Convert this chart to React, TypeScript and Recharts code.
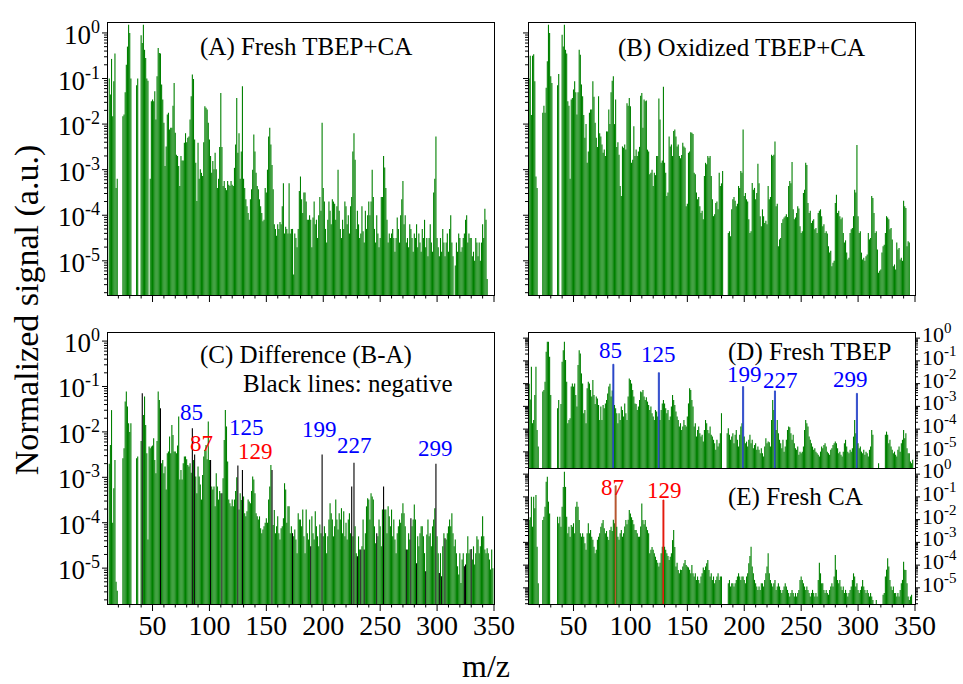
import React from 'react'
import { BarChart, Bar, XAxis, YAxis, Cell } from 'recharts'

const _ = null
const SERIF = 'Liberation Serif, DejaVu Serif, Times New Roman, serif'
const GREEN = '#008000'

// one value per integer m/z, starting here
const MZ_FROM = 10
const X_TICKS = [20, 30, 40, 50, 60, 70, 80, 90, 100, 110, 120, 130, 140, 150, 160, 170, 180, 190, 200,
  210, 220, 230, 240, 250, 260, 270, 280, 290, 300, 310, 320, 330, 340, 350]
const DECADES = [0, -1, -2, -3, -4, -5, -6]

// log10 of the normalized signal, m/z 10..350 (null = no peak)
const freshMix = [
  /*10*/ _, _, -1.0, -1.35, -0.57, -1.83, -1.06, -0.45, -3.4, -3.2,
  /*20*/ _, _, _, _, -1.83, -1.79, -1.3, -0.7, -0.3, 0.18,
  /*30*/ 0.0, -1.0, _, _, _, _, -1.15, -1.0, _, _,
  /*40*/ -0.05, -0.22, 0.18, -0.37, -0.55, -1.0, -1.05, _, -3.2, -1.5,
  /*50*/ -1.46, -1.5, -1.28, -1.9, -0.95, -0.33, -0.44, -0.45, -1.13, -1.46,
  /*60*/ -1.97, -2.92, -2.49, -1.79, -1.75, -2.12, -2.08, -2.08, -1.6, -1.1,
  /*70*/ -2.19, -2.67, -2.7, -2.92, -3.36, -2.7, -2.8, -2.8, -2.41, -2.2,
  /*80*/ -2.4, -2.3, -2.27, -1.9, -1.39, -0.91, -1.01, -2.34, -2.85, -3.69,
  /*90*/ -2.41, -3.2, -2.99, -3.07, -3.14, -2.4, -1.61, -1.64, -1.68, -1.97,
  /*100*/ -2.34, -2.7, -3.07, -2.81, -2.99, -2.63, -2.99, -3.4, -3.2, -2.5,
  /*110*/ -1.32, -2.5, -3.36, -3.25, -3.4, -3.45, -3.25, -3.33, -3.36, -3.25,
  /*120*/ -3.33, -3.36, -2.96, -2.45, -1.43, -2.63, -2.2, -3.2, -2.6, -1.17,
  /*130*/ -3.2, -3.4, -3.65, -3.8, -3.95, -4.1, -3.65, -3.43, -3.0, -2.23,
  /*140*/ -2.6, -3.07, -3.36, -3.43, -3.65, -3.8, -3.95, -4.13, -4.1, -3.4,
  /*150*/ -3.5, -3.0, -2.27, -2.08, -2.45, -2.9, -3.43, -4.2, -4.3, -4.45,
  /*160*/ -4.2, -4.3, -4.15, -4.2, -3.8, -3.3, -4.4, -4.25, -4.3, -4.4,
  /*170*/ -3.3, -4.4, -4.3, -4.3, -5.3, -4.4, -4.5, -4.7, -4.3, -3.47,
  /*180*/ -3.15, -3.65, -3.95, -3.5, -3.5, -3.7, -4.1, -4.1, -4.0, -4.1,
  /*190*/ -4.7, -4.05, -3.7, -4.2, -4.1, -4.5, -4.0, -3.6, -3.9, -1.97,
  /*200*/ -3.4, -3.7, -4.3, -4.6, -4.1, -3.7, -3.9, -4.2, -3.65, -3.7,
  /*210*/ -3.75, -4.1, -3.8, -3.0, -3.9, -4.3, -4.5, -4.1, -4.3, -3.7,
  /*220*/ -3.8, -4.2, -4.0, -4.4, -3.8, -3.6, -2.6, -2.2, -2.78, -4.3,
  /*230*/ -3.9, -4.2, -4.5, -4.4, -3.8, -4.35, -4.6, -3.9, -4.3, -4.0,
  /*240*/ -3.7, -4.0, -3.7, -3.0, -3.6, -4.3, -4.6, -4.0, -4.4, -4.7,
  /*250*/ -4.5, -3.6, -3.6, -2.7, -2.95, -3.4, -4.1, -4.6, -4.4, -4.5,
  /*260*/ -4.4, -4.3, -4.5, -4.8, -4.5, -4.05, -4.3, -4.6, -4.0, -3.65,
  /*270*/ -3.25, -4.2, -4.0, -4.6, -4.5, -4.7, -4.2, -4.3, -4.5, -4.8,
  /*280*/ -4.4, -4.5, -4.2, -4.7, -4.4, -4.6, -4.8, -4.3, -4.5, -4.1,
  /*290*/ -4.7, -4.5, -4.9, -4.5, -4.2, -4.6, -4.8, -3.5, -3.2, -2.27,
  /*300*/ -4.5, -4.7, -4.9, -4.5, -4.8, -4.3, -4.6, -4.9, -4.6, -4.4,
  /*310*/ -4.8, -4.3, -4.0, -4.6, -4.9, _, -5.1, -4.6, -4.8, -4.4,
  /*320*/ -4.5, -4.8, -4.7, -4.5, -4.4, -4.1, -4.0, -4.6, -4.4, -4.5,
  /*330*/ -4.5, -4.9, -4.8, -5.0, -4.5, -4.6, -4.9, -4.6, -5.0, -4.6,
  /*340*/ -4.2, -4.5, -3.86, -4.1, -5.4, _, _, _, _, _,
  /*350*/ _,
]

const oxidizedMix = [
  /*10*/ _, -1.0, -0.5, -1.8, -0.5, -0.47, -1.06, -3.15, -3.4, _,
  /*20*/ _, _, _, -1.75, -1.6, -1.75, -1.2, -0.62, 0.18, 0.0,
  /*30*/ -0.95, -1.1, _, _, _, _, -1.15, -0.9, _, _,
  /*40*/ -0.04, -0.3, 0.18, -0.37, -0.45, -1.5, -1.6, -3.2, -1.46, -1.43,
  /*50*/ -1.24, -1.06, -1.3, -1.79, -1.3, -0.37, -0.48, -1.13, -1.39, -1.8,
  /*60*/ -2.3, -2.0, -2.85, -2.6, -1.75, -1.68, -1.68, -1.06, -1.4, -1.97,
  /*70*/ -2.3, -2.5, -1.39, -2.2, -2.27, -2.45, -2.63, -2.56, -2.7, -2.16,
  /*80*/ -2.16, -1.68, -2.0, -1.3, -1.05, -0.95, -2.0, -1.46, -2.5, -2.4,
  /*90*/ -2.67, -3.36, -3.58, -2.49, -2.52, -2.45, -2.56, -1.54, -1.6, -1.43,
  /*100*/ -1.61, -2.85, -2.78, -2.05, -2.7, -2.56, -2.7, -2.6, -2.5, -1.38,
  /*110*/ -1.32, -2.08, -1.46, -1.5, -1.48, -2.56, -2.6, -3.1, -3.07, -3.0,
  /*120*/ -3.36, -3.07, -3.12, -2.7, -2.7, -1.44, -1.9, -2.85, -2.8, -1.18,
  /*130*/ -2.85, -3.07, -3.58, -3.5, -2.27, -2.49, -2.45, -2.7, -2.15, -2.12,
  /*140*/ -2.27, -2.49, -2.45, -2.7, -2.75, -2.68, -2.41, -2.49, -2.52, -3.8,
  /*150*/ -3.75, -2.63, -2.6, -2.18, -2.19, -2.22, -3.07, -3.1, -3.5, -3.65,
  /*160*/ -3.6, -3.8, -3.95, -3.9, -4.09, -3.14, -2.85, -2.88, -2.7, -2.74,
  /*170*/ -2.7, -3.14, -3.65, -4.02, -3.98, -3.73, -3.7, -3.87, -3.07, -3.36,
  /*180*/ -3.3, -3.03, _, _, _, _, -4.39, -4.35, -4.46, -3.87,
  /*190*/ -3.65, -3.6, -3.68, -3.8, -3.75, -3.36, -3.4, -3.03, -3.07, -2.12,
  /*200*/ -3.58, -3.51, -3.65, -3.7, -4.09, -4.39, -4.35, -3.29, -3.44, -3.4,
  /*210*/ -3.65, -3.51, -2.87, -3.3, -4.02, -4.24, -3.87, -4.02, -4.17, -4.12,
  /*220*/ -4.2, -3.36, -3.65, -3.6, -2.67, -2.7, -2.67, -2.38, -3.8, -3.75,
  /*230*/ -4.68, -4.53, -4.5, -4.17, -4.09, -4.05, -4.02, -3.98, -4.04, -3.36,
  /*240*/ -3.25, -3.3, -2.83, -3.87, -4.09, -4.05, -3.95, -3.8, -3.85, -4.24,
  /*250*/ -4.39, -4.35, -3.51, -3.44, -2.85, -2.9, -3.73, -3.95, -3.9, -4.17,
  /*260*/ -4.12, -4.09, -4.31, -4.28, -4.39, -3.95, -3.9, -3.87, -4.02, -4.24,
  /*270*/ -4.2, -4.39, -4.35, -4.4, -4.68, -4.82, -4.78, -5.12, -5.04, -5.0,
  /*280*/ -3.73, -3.55, -3.95, -3.9, -4.02, -4.09, -4.05, -4.39, -4.6, -4.55,
  /*290*/ -4.82, -4.97, -4.93, -4.39, -4.31, -4.28, -4.02, -3.44, -3.5, -2.46,
  /*300*/ -4.02, -4.39, -4.35, -4.82, -4.97, -4.93, -5.0, -4.9, -4.86, -4.39,
  /*310*/ -4.53, -4.5, -3.58, -3.62, -3.95, -4.39, -4.35, -4.75, -5.26, -5.22,
  /*320*/ -5.19, -4.82, -4.68, -4.65, -4.39, -4.02, -4.05, -4.09, -4.31, -4.28,
  /*330*/ -4.53, -5.12, -5.08, -5.19, -4.6, -4.75, -4.72, -4.97, -4.93, -5.0,
  /*340*/ -3.68, -3.8, -3.84, -4.68, -4.57, -4.6, _, _, _, _,
  /*350*/ _,
]

// |B - A|, log10
const difference = [
  /*10*/ _, _, -2.7, -2.29, -1.52, -4.0, -3.24, -2.62, -5.3, -5.5,
  /*20*/ _, _, _, _, -2.58, -2.36, -1.33, -1.11, -1.44, -1.81,
  /*30*/ -2.0, -1.81, _, _, _, _, -2.58, -2.54, _, _,
  /*40*/ -2.2, -1.15, -1.63, -1.22, -1.85, -2.47, -4.37, -2.32, -2.36, -2.32,
  /*50*/ -2.3, -2.14, -2.62, -2.91, -2.2, -1.11, -1.3, -1.48, -2.69, -2.62,
  /*60*/ -2.91, -2.76, -3.27, -2.47, -2.43, -2.1, -2.47, -1.85, -2.07, -2.43,
  /*70*/ -2.43, -2.47, -2.3, -1.66, -3.05, -2.84, -3.05, -2.69, -2.54, -2.54,
  /*80*/ -2.6, -2.73, -2.76, -2.69, -2.9, -1.92, -2.62, -2.5, -2.98, -3.35,
  /*90*/ -2.76, -2.98, -3.16, -3.49, -2.95, -2.54, -2.4, -2.29, -2.6, -1.77,
  /*100*/ -2.62, -2.62, -3.2, -3.27, -3.2, -3.64, -2.91, -3.2, -3.49, -3.3,
  /*110*/ -3.35, -3.35, -3.02, -2.18, -1.52, -1.88, -2.65, -3.49, -3.57, -3.64,
  /*120*/ -3.49, -3.64, -3.49, -3.3, -3.0, -2.74, -3.71, -3.35, -3.5, -2.84,
  /*130*/ -3.42, -3.79, -3.86, -3.75, -3.49, -3.53, -3.57, -3.3, -2.98, -3.05,
  /*140*/ -3.35, -3.79, -3.86, -3.93, -3.86, -4.12, -4.23, -4.15, -4.08, -4.0,
  /*150*/ -3.9, -4.0, -3.49, -3.2, -2.73, -2.84, -4.05, -3.72, -4.23, -4.08,
  /*160*/ -3.86, -4.23, -4.37, -4.12, -4.08, -3.9, -3.13, -3.27, -4.0, -3.64,
  /*170*/ -3.64, -4.23, -4.08, -4.23, -4.3, -4.15, -4.37, -4.67, -3.79, -3.93,
  /*180*/ -3.93, -4.08, -3.71, -4.3, -4.67, -3.71, -4.23, -4.37, -3.93, -4.52,
  /*190*/ -3.86, -4.23, -4.37, -3.75, -4.08, -4.3, -4.52, -4.04, -4.23, -2.5,
  /*200*/ -4.3, -4.08, -4.23, -4.67, -4.3, -3.93, -3.57, -3.79, -3.93, -4.3,
  /*210*/ -4.08, -3.49, -3.93, -4.15, -3.79, -3.93, -3.68, -4.23, -3.75, -4.3,
  /*220*/ -4.0, -4.37, -3.93, -3.79, -4.23, -3.2, -4.3, -2.68, -4.08, -4.67,
  /*230*/ -4.74, -4.3, -4.59, -4.59, -4.52, -3.93, -4.59, -4.23, -3.64, -3.46,
  /*240*/ -3.49, -3.93, -3.35, -3.42, -3.49, -4.08, -4.45, -4.23, -4.3, -3.93,
  /*250*/ -4.08, -4.52, -3.71, -3.2, -3.71, -3.71, -4.23, -3.64, -3.86, -4.08,
  /*260*/ -3.71, -4.3, -3.93, -4.37, -4.67, -4.23, -4.08, -3.93, -4.0, -3.79,
  /*270*/ -3.57, -3.79, -4.08, -4.59, -4.59, -4.23, -4.37, -3.9, -4.08, -3.93,
  /*280*/ -3.6, -3.93, -4.89, -4.3, -4.52, -4.23, -4.08, -4.08, -4.3, -4.67,
  /*290*/ -5.07, -4.26, -3.93, -4.3, -4.23, -4.52, -4.08, -3.93, -3.68, -2.7,
  /*300*/ -4.3, -4.67, -5.11, -4.67, -5.18, -4.52, -4.23, -4.34, -4.37, -4.23,
  /*310*/ -4.08, -3.93, -4.08, -3.79, -4.23, -4.52, -4.37, -4.67, -4.96, -5.14,
  /*320*/ -4.67, -5.33, -4.81, -4.67, -4.96, -4.92, -4.67, -4.3, -4.67, -4.59,
  /*330*/ -4.58, -4.81, -4.52, -4.92, -4.67, -4.3, -4.37, -4.67, -4.52, -4.3,
  /*340*/ -3.86, -4.3, -4.59, -4.67, -4.56, -4.67, -4.81, -5.03, -4.59, -5.0,
  /*350*/ _,
]
// m/z where B - A is negative (drawn black)
const diffNegative = [41, 57, 85, 87, 101, 111, 125, 129, 155, 173, 189, 199, 225, 227, 230, 233, 236,
  247, 253, 273, 277, 282, 290, 299, 302, 304, 307, 324, 325, 330]

const freshTbep = [
  /*10*/ _, -2.0, -2.7, -1.26, -3.74, -3.6, -2.5, -1.26, -4.04, -4.77,
  /*20*/ _, _, _, -2.35, -2.28, -1.92, -0.6, -0.16, -0.16, -0.82,
  /*30*/ -2.5, _, _, _, _, _, -3.08, -2.72, _, -2.9,
  /*40*/ -1.04, -0.53, -0.16, -0.96, -1.92, -3.74, -3.6, -3.52, -2.13, -1.99,
  /*50*/ -2.13, -1.99, -2.5, -3.01, -1.18, -0.53, -0.67, -1.55, -1.99, -3.3,
  /*60*/ -3.16, -3.74, -2.2, -1.92, -1.99, -2.28, -2.57, -1.84, -2.5, -2.9,
  /*70*/ -2.57, -2.65, -2.94, -3.6, -3.01, -3.6, -2.94, -3.08, -2.87, -2.72,
  /*80*/ -2.43, -2.13, -2.0, -2.57, -2.3, -1.15, -2.94, -3.08, -3.3, -3.74,
  /*90*/ -3.3, -3.6, -3.01, -3.16, -3.45, -2.87, -3.3, -3.6, -2.57, -1.77,
  /*100*/ -1.84, -1.99, -2.28, -2.57, -2.87, -2.9, -3.16, -3.01, -2.72, -2.35,
  /*110*/ -2.38, -2.28, -2.57, -2.72, -2.6, -2.79, -2.94, -3.16, -3.01, -3.3,
  /*120*/ -3.45, -3.6, -3.16, -3.23, -3.45, -1.52, -3.6, -3.16, -2.87, -2.72,
  /*130*/ -2.87, -3.08, -3.3, -3.16, -3.6, -3.45, -3.01, -2.5, -2.72, -2.94,
  /*140*/ -3.23, -3.45, -3.6, -3.89, -3.74, -4.04, -3.89, -3.6, -3.82, -3.89,
  /*150*/ -3.45, -2.87, -2.2, -2.28, -2.72, -3.01, -3.89, -3.74, -4.33, -4.04,
  /*160*/ -3.89, -4.18, -4.33, -4.25, -4.55, -4.04, -3.6, -3.74, -4.04, -4.18,
  /*170*/ -3.89, -4.25, -4.33, -4.47, -4.62, -4.91, -4.47, -4.77, -4.62, -4.18,
  /*180*/ -3.3, _, _, _, _, -4.18, -3.96, -4.25, -4.47, -4.33,
  /*190*/ -4.18, -4.62, -4.25, -4.04, -4.47, -4.77, -4.25, -3.89, -3.74, -2.13,
  /*200*/ -4.33, -4.62, -4.55, -4.77, -4.47, -4.25, -4.62, -4.47, -4.84, -4.7,
  /*210*/ -4.62, -4.91, -4.77, -4.91, -5.06, -4.84, -5.06, -5.2, -4.77, -4.4,
  /*220*/ -4.62, -4.55, -4.58, -4.77, -3.6, -2.72, -3.16, -2.32, -4.04, -3.6,
  /*230*/ -4.18, -4.47, -4.62, -4.84, -4.47, -4.99, -4.77, -4.47, -4.04, -3.89,
  /*240*/ -3.92, -4.18, -4.47, -4.25, -4.62, -4.84, -4.91, -4.77, -5.13, -4.99,
  /*250*/ -5.06, -4.99, -4.77, -4.04, -3.6, -3.74, -3.89, -4.33, -4.47, -4.62,
  /*260*/ -4.77, -4.91, -4.84, -4.99, -5.06, -5.13, -5.2, -4.99, -4.77, -4.84,
  /*270*/ -4.7, -4.62, -4.77, -4.99, -5.06, -5.13, -4.91, -4.84, -4.7, -4.62,
  /*280*/ -4.55, -4.62, -4.84, -5.06, -4.99, -5.13, -5.2, -4.99, -4.62, -4.47,
  /*290*/ -4.77, -4.99, -5.06, -4.91, -4.99, -4.84, -4.33, -3.6, -4.18, -2.43,
  /*300*/ -4.62, -4.84, -4.77, -4.99, -5.06, -4.91, -5.13, -4.99, -5.06, -5.2,
  /*310*/ -4.91, -4.77, -4.04, -4.25, _, _, _, _, -5.5, _,
  /*320*/ _, _, _, _, -4.25, -4.11, -4.25, -4.62, -4.47, -4.77,
  /*330*/ -4.91, -5.06, -4.99, -5.13, -5.2, -4.91, -4.77, -4.99, -4.62, -4.47,
  /*340*/ -4.04, -4.4, -4.18, -4.84, -5.06, -5.06, -5.42, -5.5, -5.35, _,
  /*350*/ _,
]

const freshCa = [
  /*10*/ _, -2.02, -1.9, -0.99, -2.31, -0.99, -1.5, -0.92, -3.19, -4.8,
  /*20*/ _, _, _, -2.02, -1.87, -1.43, -0.34, -0.12, -1.21, -1.73,
  /*30*/ _, _, _, _, _, _, -1.87, -2.16, -1.87, -2.31,
  /*40*/ -1.43, -0.56, 0.1, -0.56, -1.87, -2.6, -2.31, -2.75, -2.24, -2.31,
  /*50*/ -2.16, -2.6, -1.43, -1.21, -1.43, -2.02, -2.6, -2.75, -2.6, -2.75,
  /*60*/ -3.04, -3.33, -2.6, -2.16, -2.6, -2.46, -2.75, -2.89, -3.19, -3.48,
  /*70*/ -3.33, -2.89, -2.75, -2.6, -2.31, -2.16, -2.02, -2.38, -2.6, -2.5,
  /*80*/ -2.75, -2.9, -2.46, -2.31, -2.5, -2.0, -2.16, -0.51, -2.31, -2.75,
  /*90*/ -2.89, -2.6, -2.46, -2.75, -2.6, -2.3, -2.02, -2.2, -2.0, -1.58,
  /*100*/ -1.73, -1.9, -2.02, -2.2, -2.46, -2.46, -2.6, -2.75, -2.75, -2.3,
  /*110*/ -1.29, -2.02, -2.2, -2.02, -2.31, -2.46, -2.6, -3.48, -3.33, -3.2,
  /*120*/ -3.33, -3.48, -3.63, -3.77, -3.9, -4.06, -3.9, -3.48, -3.19, -1.14,
  /*130*/ -3.19, -3.33, -3.48, -3.6, -3.77, -3.63, -3.48, -2.9, -2.46, -3.2,
  /*140*/ -4.06, -3.9, -4.21, -4.36, -4.2, -4.21, -4.06, -3.92, -3.77, -4.0,
  /*150*/ -4.06, -4.1, -4.2, -4.36, -4.0, -4.36, -4.5, -4.36, -4.65, -4.5,
  /*160*/ -4.65, -4.8, -4.5, -4.36, -4.1, -4.21, -4.06, -3.92, -3.77, -4.21,
  /*170*/ -4.5, -4.36, -4.65, -4.5, -4.8, -4.65, -4.5, -4.36, -4.65, -4.5,
  /*180*/ -4.5, _, _, _, _, _, -4.8, -4.65, -4.94, -4.8,
  /*190*/ -4.8, -4.94, -4.8, -4.65, -4.5, -4.36, -4.5, -4.65, -4.5, -4.5,
  /*200*/ -4.65, -4.8, -4.5, -4.36, -3.92, -3.6, -3.19, -4.06, -4.36, -4.65,
  /*210*/ -4.8, -4.94, -5.09, -4.94, -5.09, -4.8, -4.8, -4.94, -4.65, -4.36,
  /*220*/ -4.06, -3.48, -4.36, -4.65, -4.8, -4.94, -4.8, -4.65, -5.09, -4.94,
  /*230*/ -4.8, -4.94, -5.09, -5.23, -5.09, -4.94, -4.8, -4.94, -5.09, -5.23,
  /*240*/ -5.38, -5.23, -5.09, -5.23, -5.38, -5.23, -5.38, -5.23, -5.09, -4.65,
  /*250*/ -4.5, -4.65, -4.8, -4.94, -5.09, -4.94, -5.09, -5.23, -5.38, -5.23,
  /*260*/ -5.09, -5.23, -5.38, -5.23, -5.38, -4.65, -3.9, -4.36, -4.8, -4.8,
  /*270*/ -5.09, -5.23, -5.09, -5.23, -5.3, -5.09, -4.94, -4.8, -4.94, -4.5,
  /*280*/ -3.55, -4.2, -4.65, -4.8, -4.65, -4.94, -5.09, -4.94, -5.23, -5.09,
  /*290*/ -5.23, -5.38, -5.23, -5.09, -4.94, -4.65, -4.36, -4.5, -4.94, -4.8,
  /*300*/ -5.09, -5.23, -5.09, -4.94, -4.65, -4.94, -5.09, -5.23, -5.09, -5.23,
  /*310*/ -5.38, -5.23, -5.38, -5.53, _, _, -5.53, _, _, _,
  /*320*/ _, _, -5.3, -5.23, -4.5, -4.2, -3.7, -4.06, -4.65, -4.94,
  /*330*/ -5.09, -4.94, -5.23, -5.23, -5.38, -5.23, -5.38, -5.09, -4.8, -4.65,
  /*340*/ -3.85, -4.2, -4.21, -4.8, -5.38, -5.53, -5.38, -5.3, _, _,
  /*350*/ _,
]

const tbepMarkers = [85, 125, 199, 227, 299]
const caMarkers = [87, 129]
const caMarkerColors = ['#b5532c', '#e31a0f']

type Row = { mz: number; signal: number }
type Paint = { fill: string; stroke?: string }

function toRows(exps: (number | null)[]): Row[] {
  const rows: Row[] = []
  exps.forEach((e, i) => {
    if (e !== null) rows.push({ mz: MZ_FROM + i, signal: Math.pow(10, e) })
  })
  return rows
}

function logTicks(domain: number[]) {
  const t: number[] = []
  for (const d of DECADES) {
    for (let k = 1; k <= 9; k++) {
      const v = k * Math.pow(10, d)
      if (v >= domain[0] && v <= domain[1]) t.push(v)
    }
  }
  return t.sort((a, b) => a - b)
}

function XTick(props: any) {
  const { x, y, payload, showLabel } = props
  const major = payload.value % 50 === 0
  return (
    <g>
      <line x1={x} x2={x} y1={y} y2={y + (major ? 7 : 3.5)} stroke="#000" strokeWidth={1} />
      {showLabel && major && (
        <text x={x} y={y + 31} textAnchor="middle" fill="#000" style={{ fontFamily: SERIF, fontSize: 28 }}>
          {payload.value}
        </text>
      )}
    </g>
  )
}

function YTick(props: any) {
  const { x, y, payload, side, showLabel } = props
  const lg = Math.log10(payload.value)
  const e = Math.round(lg)
  const major = Math.abs(lg - e) < 1e-6
  const dir = side === 'left' ? -1 : 1
  const len = major ? 5 : 3
  return (
    <g>
      <line x1={x} x2={x + dir * len} y1={y} y2={y} stroke="#000" strokeWidth={1} />
      {showLabel && major && side === 'left' && (
        <text x={x - 7} y={y + 11} textAnchor="end" fill="#000" style={{ fontFamily: SERIF }}>
          <tspan style={{ fontSize: 27 }}>10</tspan>
          <tspan style={{ fontSize: 18 }} dy={-11}>{e}</tspan>
        </text>
      )}
      {showLabel && major && side === 'right' && (
        <text x={x + 7} y={y + 4} textAnchor="start" fill="#000" style={{ fontFamily: SERIF }}>
          <tspan style={{ fontSize: 22 }}>10</tspan>
          <tspan style={{ fontSize: 15 }} dy={-9}>{e}</tspan>
        </text>
      )}
    </g>
  )
}

type Frame = { x: number; y: number; w: number; h: number }

function Panel(props: {
  frame: Frame
  values: (number | null)[]
  domain: number[]
  paint?: (mz: number) => Paint | null
  leftLabels?: boolean
  rightAxis?: boolean
  xMode: 'labels' | 'ticks' | 'none'
}) {
  const { frame, values, domain, paint, leftLabels, rightAxis, xMode } = props
  const rows = toRows(values)
  const LW = leftLabels ? 72 : 10
  const RW = rightAxis ? 46 : 0
  const RM = rightAxis ? 0 : 24
  const XH = xMode === 'labels' ? 42 : xMode === 'ticks' ? 10 : 0
  const MT = 16
  const yTicks = logTicks(domain)
  return (
    <div style={{ position: 'absolute', left: frame.x - LW, top: frame.y - MT }}>
      <BarChart
        width={LW + frame.w + RW + RM}
        height={MT + frame.h + XH}
        data={rows}
        margin={{ top: MT, right: RM, bottom: 0, left: 0 }}
        barCategoryGap={0}
        barGap={0}
      >
        <XAxis
          dataKey="mz"
          type="number"
          domain={[10, 350]}
          allowDataOverflow
          ticks={X_TICKS}
          interval={0}
          height={XH}
          hide={xMode === 'none'}
          axisLine={false}
          tickLine={false}
          tickSize={0}
          tickMargin={0}
          tick={(p: any) => <XTick {...p} showLabel={xMode === 'labels'} />}
        />
        <YAxis
          yAxisId="l"
          type="number"
          scale="log"
          domain={domain}
          allowDataOverflow
          ticks={yTicks}
          interval={0}
          width={LW}
          axisLine={false}
          tickLine={false}
          tickSize={0}
          tickMargin={0}
          tick={(p: any) => <YTick {...p} side="left" showLabel={!!leftLabels} />}
        />
        {rightAxis && (
          <YAxis
            yAxisId="r"
            orientation="right"
            type="number"
            scale="log"
            domain={domain}
            allowDataOverflow
            ticks={yTicks}
            interval={0}
            width={RW}
            axisLine={false}
            tickLine={false}
            tickSize={0}
            tickMargin={0}
            tick={(p: any) => <YTick {...p} side="right" showLabel />}
          />
        )}
        <Bar yAxisId="l" dataKey="signal" fill={GREEN} barSize={1.1} isAnimationActive={false}>
          {rows.map((r, i) => {
            const p = paint ? paint(r.mz) : null
            return p ? (
              <Cell key={i} fill={p.fill} stroke={p.stroke} strokeWidth={p.stroke ? 0.8 : 0} />
            ) : (
              <Cell key={i} fill={GREEN} />
            )
          })}
        </Bar>
      </BarChart>
    </div>
  )
}

const FRAME_A = { x: 107, y: 22, w: 387, h: 273 }
const FRAME_B = { x: 528, y: 22, w: 387, h: 273 }
const FRAME_C = { x: 107, y: 332, w: 387, h: 272 }
const FRAME_D = { x: 528, y: 332, w: 387, h: 136 }
const FRAME_E = { x: 528, y: 468, w: 387, h: 136 }

const DOMAIN_TOP = [Math.pow(10, -5.75), Math.pow(10, 0.24)]
const DOMAIN_C = [Math.pow(10, -5.79), Math.pow(10, 0.2)]
const DOMAIN_DE = [Math.pow(10, -5.71), Math.pow(10, 0.27)]

const diffPaint = (mz: number): Paint | null =>
  diffNegative.includes(mz) ? { fill: '#000000' } : null
const tbepPaint = (mz: number): Paint | null =>
  tbepMarkers.includes(mz) ? { fill: '#2340c8', stroke: '#2340c8' } : null
const caPaint = (mz: number): Paint | null => {
  const i = caMarkers.indexOf(mz)
  return i >= 0 ? { fill: caMarkerColors[i], stroke: caMarkerColors[i] } : null
}

const BLUE = '#0000ff'
const RED = '#ff0000'

const notes = [
  { t: '(A) Fresh TBEP+CA', x: 200, y: 55, s: 25, c: '#000' },
  { t: '(B) Oxidized TBEP+CA', x: 618, y: 56, s: 25, c: '#000' },
  { t: '(C) Difference (B-A)', x: 200, y: 363, s: 25, c: '#000' },
  { t: 'Black lines: negative', x: 243, y: 392, s: 25, c: '#000' },
  { t: '(D) Fresh TBEP', x: 728, y: 360, s: 25, c: '#000' },
  { t: '(E) Fresh CA', x: 728, y: 505, s: 25, c: '#000' },
  { t: '85', x: 180, y: 420, s: 23, c: BLUE },
  { t: '87', x: 190, y: 451, s: 23, c: RED },
  { t: '125', x: 229, y: 435, s: 23, c: BLUE },
  { t: '129', x: 238, y: 459, s: 23, c: RED },
  { t: '199', x: 302, y: 437, s: 23, c: BLUE },
  { t: '227', x: 337, y: 453, s: 23, c: BLUE },
  { t: '299', x: 418, y: 456, s: 23, c: BLUE },
  { t: '85', x: 599, y: 358, s: 23, c: BLUE },
  { t: '125', x: 641, y: 362, s: 23, c: BLUE },
  { t: '199', x: 727, y: 382, s: 23, c: BLUE },
  { t: '227', x: 763, y: 388, s: 23, c: BLUE },
  { t: '299', x: 833, y: 387, s: 23, c: BLUE },
  { t: '87', x: 601, y: 495, s: 23, c: RED },
  { t: '129', x: 647, y: 498, s: 23, c: RED },
]

export default function App() {
  const frames = [FRAME_A, FRAME_B, FRAME_C, FRAME_D, FRAME_E]
  return (
    <div
      style={{
        position: 'absolute',
        left: 0,
        top: 0,
        width: 963,
        height: 684,
        overflow: 'hidden',
        background: '#fff',
        fontFamily: SERIF,
      }}
    >
      <Panel frame={FRAME_A} values={freshMix} domain={DOMAIN_TOP} leftLabels xMode="ticks" />
      <Panel frame={FRAME_B} values={oxidizedMix} domain={DOMAIN_TOP} xMode="ticks" />
      <Panel frame={FRAME_C} values={difference} domain={DOMAIN_C} paint={diffPaint} leftLabels xMode="labels" />
      <Panel frame={FRAME_D} values={freshTbep} domain={DOMAIN_DE} paint={tbepPaint} rightAxis xMode="none" />
      <Panel frame={FRAME_E} values={freshCa} domain={DOMAIN_DE} paint={caPaint} rightAxis xMode="labels" />
      <svg
        width={963}
        height={684}
        style={{ position: 'absolute', left: 0, top: 0, pointerEvents: 'none', fontFamily: SERIF }}
      >
        {frames.map((f, i) => (
          <rect key={i} x={f.x + 0.5} y={f.y + 0.5} width={f.w} height={f.h} fill="none" stroke="#000" strokeWidth={1} />
        ))}
        {notes.map((n, i) => (
          <text key={i} x={n.x} y={n.y} fill={n.c} style={{ fontFamily: SERIF, fontSize: n.s }}>
            {n.t}
          </text>
        ))}
        <text
          transform="translate(38,310) rotate(-90)"
          textAnchor="middle"
          fill="#000"
          style={{ fontFamily: SERIF, fontSize: 34 }}
        >
          Normalized signal (a.u.)
        </text>
        <text x={486} y={677} textAnchor="middle" fill="#000" style={{ fontFamily: SERIF, fontSize: 32 }}>
          m/z
        </text>
      </svg>
    </div>
  )
}
